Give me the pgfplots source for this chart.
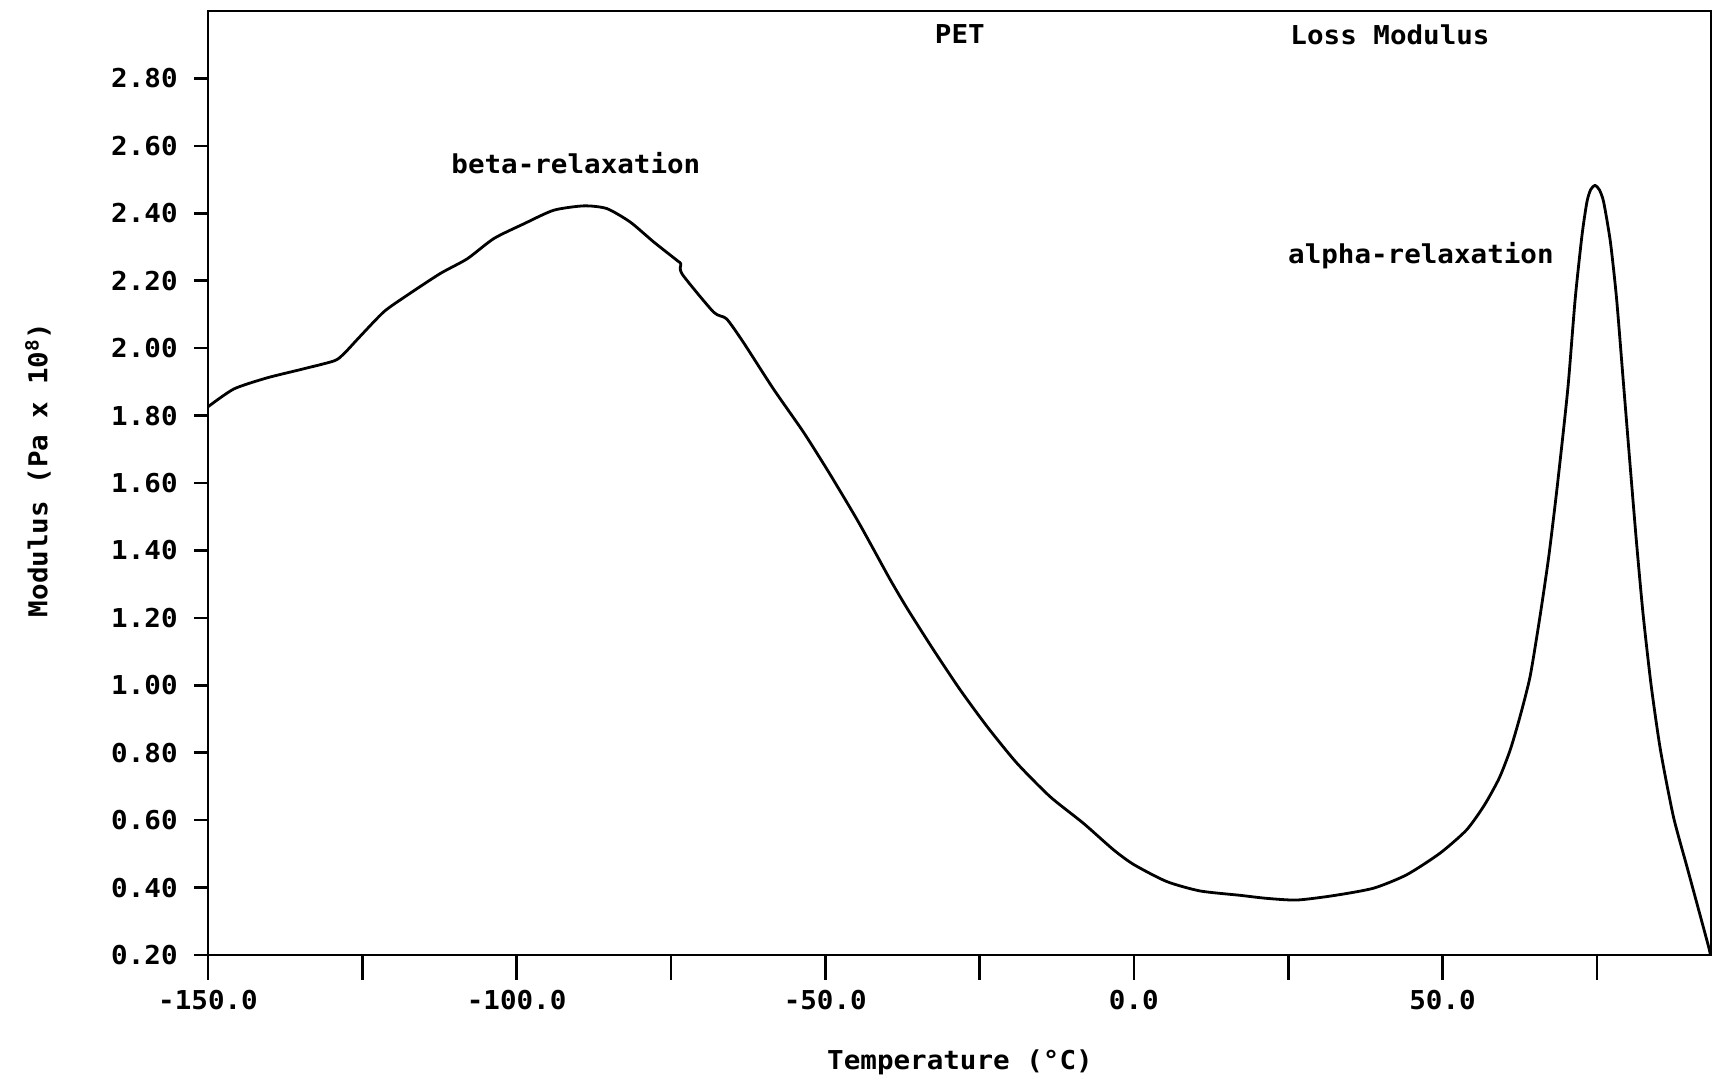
\documentclass[border=0pt]{standalone}
\usepackage{fontspec}
\setmainfont{DejaVu Sans Mono}[FakeStretch=1.06]
\usepackage{pgfplots}
\usepackage{pgfplotstable}
\pgfplotsset{compat=1.18}
\pgfplotstableread{
T M
-150.0 1.826
-145.8 1.879
-140.4 1.912
-135.1 1.936
-129.6 1.962
-128.0 1.983
-125.4 2.034
-121.5 2.108
-117.8 2.156
-112.4 2.221
-108.0 2.265
-103.7 2.325
-98.8 2.369
-94.0 2.409
-89.1 2.422
-85.4 2.414
-81.6 2.374
-77.8 2.315
-74.0 2.260
-73.4 2.250
-73.2 2.220
-68.1 2.107
-66.0 2.087
-63.3 2.018
-58.4 1.879
-53.5 1.750
-49.2 1.625
-44.9 1.493
-42.2 1.404
-39.5 1.314
-36.8 1.230
-32.5 1.106
-28.2 0.988
-23.8 0.878
-19.0 0.770
-13.6 0.670
-8.2 0.591
-3.3 0.512
0.0 0.468
5.3 0.418
10.7 0.390
17.2 0.377
21.5 0.368
26.4 0.363
32.3 0.376
38.8 0.398
44.2 0.438
49.6 0.502
53.9 0.571
56.8 0.645
59.2 0.725
61.0 0.810
62.6 0.910
64.2 1.027
65.8 1.205
67.2 1.380
68.4 1.560
69.5 1.740
70.4 1.899
71.5 2.147
72.6 2.335
73.4 2.434
74.0 2.470
74.7 2.483
75.4 2.470
76.1 2.434
77.2 2.315
78.2 2.147
79.3 1.899
80.4 1.651
81.4 1.430
82.5 1.210
83.8 1.000
85.3 0.809
87.4 0.611
89.6 0.462
91.2 0.354
93.1 0.225
93.4 0.200
}\datatable
\newcommand\pf{\fontsize{13}{15}\selectfont\bfseries}
\begin{document}
\begin{tikzpicture}
\begin{axis}[
  scale only axis, width=751.5pt, height=472pt,
  xmin=-150, xmax=93.5, ymin=0.2, ymax=3.0,
  axis line style={line width=1.3pt},
  tick align=outside, tick pos=left,
  xtick={-150,-100,-50,0,50},
  xticklabels={-150.0,-100.0,-50.0,0.0,50.0},
  minor xtick={-125,-75,-25,25,75},
  ytick={0.2,0.4,0.6,0.8,1.0,1.2,1.4,1.6,1.8,2.0,2.2,2.4,2.6,2.8},
  yticklabels={0.20,0.40,0.60,0.80,1.00,1.20,1.40,1.60,1.80,2.00,2.20,2.40,2.60,2.80},
  major tick length=7pt,
  every tick/.append style={black, line width=1.3pt},
  xtick style={black, line width=1.3pt, /pgfplots/major tick length=12.5pt, /pgfplots/minor tick length=12.5pt},
  ytick style={black, line width=1.3pt},
  minor tick style={black, line width=1.3pt},
  xticklabel style={font=\pf, anchor=north, inner sep=0pt, yshift=-10.5pt},
  yticklabel style={font=\pf, anchor=east, inner sep=0pt, xshift=-8pt},
  clip=false,
]
\addplot[black, line width=1.4pt, line join=round, no marks, smooth, tension=0.4] table[x=T, y=M] {\datatable};
\node[font=\pf, anchor=base] at (axis cs:-28.2,2.904) {PET};
\node[font=\pf, anchor=base] at (axis cs:41.5,2.901) {Loss Modulus};
\node[font=\pf, anchor=base] at (axis cs:-90.4,2.518) {beta-relaxation};
\node[font=\pf, anchor=base] at (axis cs:46.5,2.25) {alpha-relaxation};
\node[font=\pf] at (axis description cs:0.5003,-0.1133) {Temperature (°C)};
\node[font=\pf, rotate=90] at (axis description cs:-0.1131,0.514) {Modulus (Pa x 10\textsuperscript{8})};
\coordinate (bbl) at (axis description cs:-0.1384,-0.1303);
\coordinate (btr) at (axis description cs:1.00266,1.01165);
\end{axis}
\pgfresetboundingbox
\path[use as bounding box] (bbl) rectangle (btr);
\end{tikzpicture}
\end{document}
